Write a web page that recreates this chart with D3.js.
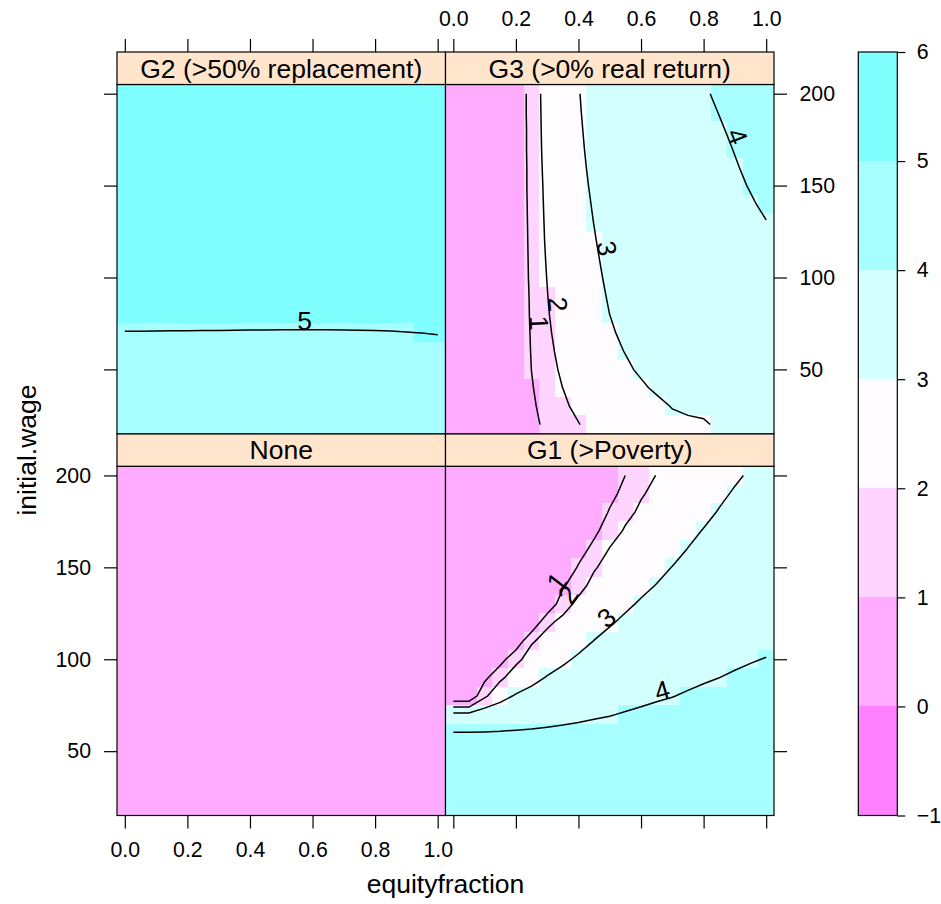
<!DOCTYPE html>
<html>
<head>
<meta charset="utf-8">
<script src="https://cdn.jsdelivr.net/npm/d3@7/dist/d3.min.js"></script>
<style>
  body { margin: 0; background: #fff; }
  svg { display: block; font-family: "Liberation Sans", Arial, Helvetica, sans-serif; }
</style>
</head>
<body>
<div id="chart"></div>
<script>
// grid coordinates, rows listed from the top of a panel (200) down to 20
var equityfraction = [0, 0.05, 0.1, 0.15, 0.2, 0.25, 0.3, 0.35, 0.4, 0.45, 0.5, 0.55, 0.6, 0.65, 0.7, 0.75, 0.8, 0.85, 0.9, 0.95, 1];
var initialWage = [200, 190, 180, 170, 160, 150, 140, 130, 120, 110, 100, 90, 80, 70, 60, 50, 40, 30, 20];

var panelNames = ["None", "G1 (>Poverty)", "G2 (>50% replacement)", "G3 (>0% real return)"];
var contourLevels = [1, 2, 3, 4, 5];
var keyBreaks = [-1, 0, 1, 2, 3, 4, 5, 6];
var xTicks = [0, 0.2, 0.4, 0.6, 0.8, 1];
var yTicks = [50, 100, 150, 200];

var gridNone = [
  [0,0,0,0,0,0,0,0,0,0,0,0,0,0,0,0,0,0,0,0,0],
  [0,0,0,0,0,0,0,0,0,0,0,0,0,0,0,0,0,0,0,0,0],
  [0,0,0,0,0,0,0,0,0,0,0,0,0,0,0,0,0,0,0,0,0],
  [0,0,0,0,0,0,0,0,0,0,0,0,0,0,0,0,0,0,0,0,0],
  [0,0,0,0,0,0,0,0,0,0,0,0,0,0,0,0,0,0,0,0,0],
  [0,0,0,0,0,0,0,0,0,0,0,0,0,0,0,0,0,0,0,0,0],
  [0,0,0,0,0,0,0,0,0,0,0,0,0,0,0,0,0,0,0,0,0],
  [0,0,0,0,0,0,0,0,0,0,0,0,0,0,0,0,0,0,0,0,0],
  [0,0,0,0,0,0,0,0,0,0,0,0,0,0,0,0,0,0,0,0,0],
  [0,0,0,0,0,0,0,0,0,0,0,0,0,0,0,0,0,0,0,0,0],
  [0,0,0,0,0,0,0,0,0,0,0,0,0,0,0,0,0,0,0,0,0],
  [0,0,0,0,0,0,0,0,0,0,0,0,0,0,0,0,0,0,0,0,0],
  [0,0,0,0,0,0,0,0,0,0,0,0,0,0,0,0,0,0,0,0,0],
  [0,0,0,0,0,0,0,0,0,0,0,0,0,0,0,0,0,0,0,0,0],
  [0,0,0,0,0,0,0,0,0,0,0,0,0,0,0,0,0,0,0,0,0],
  [0,0,0,0,0,0,0,0,0,0,0,0,0,0,0,0,0,0,0,0,0],
  [0,0,0,0,0,0,0,0,0,0,0,0,0,0,0,0,0,0,0,0,0],
  [0,0,0,0,0,0,0,0,0,0,0,0,0,0,0,0,0,0,0,0,0],
  [0,0,0,0,0,0,0,0,0,0,0,0,0,0,0,0,0,0,0,0,0]
];

var gridG1 = [
  [.05,.05,.05,.05,.05,.05,.05,.05,.05,.05,.15,1.01,1.6,2.03,2.24,2.43,2.61,2.78,2.93,3.06,3.15],
  [.05,.05,.05,.05,.05,.05,.05,.05,.05,.05,.63,1.39,1.93,2.2,2.4,2.58,2.75,2.91,3.05,3.15,3.24],
  [.05,.05,.05,.05,.05,.05,.05,.05,.05,.12,1.12,1.78,2.14,2.36,2.55,2.72,2.88,3.03,3.15,3.24,3.32],
  [.05,.05,.05,.05,.05,.05,.05,.05,.05,.72,1.6,2.09,2.33,2.53,2.7,2.87,3.02,3.14,3.25,3.34,3.41],
  [.05,.05,.05,.05,.05,.05,.05,.05,.48,1.33,2.04,2.29,2.51,2.69,2.85,3.01,3.14,3.25,3.35,3.43,3.5],
  [.05,.05,.05,.05,.05,.05,.05,.05,1.11,1.93,2.26,2.5,2.69,2.86,3.01,3.14,3.26,3.35,3.45,3.52,3.58],
  [.05,.05,.05,.05,.05,.05,.05,.85,1.75,2.23,2.49,2.7,2.88,3.02,3.14,3.27,3.37,3.46,3.55,3.61,3.67],
  [.05,.05,.05,.05,.05,.05,.05,1.68,2.19,2.49,2.72,2.91,3.06,3.18,3.29,3.4,3.49,3.57,3.65,3.7,3.75],
  [.05,.05,.05,.05,.05,.05,1.85,2.21,2.49,2.75,2.95,3.1,3.23,3.33,3.43,3.53,3.61,3.68,3.75,3.8,3.84],
  [.05,.05,.05,.05,.23,1.9,2.29,2.55,2.79,3.01,3.16,3.29,3.39,3.49,3.57,3.66,3.73,3.78,3.85,3.89,3.92],
  [.05,.05,.05,.58,1.77,2.37,2.66,2.89,3.09,3.24,3.37,3.47,3.56,3.64,3.71,3.79,3.85,3.89,3.94,3.98,4.01],
  [.05,.05,.76,1.81,2.49,2.8,3.04,3.21,3.35,3.47,3.57,3.66,3.73,3.8,3.85,3.91,3.96,3.999,4.04,4.07,4.09],
  [.14,.14,1.82,2.76,3.07,3.23,3.39,3.51,3.62,3.7,3.78,3.84,3.9,3.95,3.99,4.04,4.08,4.11,4.15,4.17,4.18],
  [3.22,3.22,3.61,3.45,3.57,3.66,3.75,3.82,3.88,3.94,3.98,4.03,4.07,4.11,4.14,4.17,4.2,4.21,4.25,4.26,4.26],
  [4.02,4.02,4.02,4.05,4.07,4.09,4.11,4.13,4.15,4.17,4.19,4.21,4.24,4.26,4.28,4.3,4.32,4.32,4.35,4.35,4.35],
  [4.95,4.95,4.81,4.66,4.57,4.51,4.46,4.44,4.41,4.4,4.39,4.4,4.4,4.42,4.42,4.43,4.44,4.43,4.45,4.44,4.44],
  [4.95,4.95,4.95,4.95,4.95,4.94,4.82,4.75,4.68,4.63,4.6,4.58,4.57,4.57,4.56,4.56,4.56,4.53,4.55,4.54,4.52],
  [4.95,4.95,4.95,4.95,4.95,4.95,4.95,4.95,4.95,4.86,4.8,4.77,4.74,4.73,4.7,4.69,4.68,4.64,4.65,4.63,4.61],
  [4.95,4.95,4.95,4.95,4.95,4.95,4.95,4.95,4.95,4.95,4.95,4.95,4.91,4.88,4.84,4.82,4.8,4.75,4.75,4.72,4.69]
];

var gridG2 = [
  [5.7,5.7,5.7,5.7,5.7,5.7,5.7,5.7,5.7,5.7,5.7,5.7,5.7,5.7,5.7,5.7,5.7,5.7,5.7,5.7,5.7],
  [5.65,5.65,5.65,5.65,5.65,5.65,5.65,5.65,5.65,5.65,5.65,5.65,5.65,5.65,5.65,5.65,5.65,5.65,5.65,5.65,5.65],
  [5.6,5.6,5.6,5.6,5.6,5.6,5.6,5.6,5.6,5.6,5.6,5.6,5.6,5.6,5.6,5.6,5.6,5.6,5.6,5.6,5.6],
  [5.55,5.55,5.55,5.55,5.55,5.55,5.55,5.55,5.55,5.55,5.55,5.55,5.55,5.55,5.55,5.55,5.55,5.55,5.55,5.55,5.55],
  [5.5,5.5,5.5,5.5,5.5,5.5,5.5,5.5,5.5,5.5,5.5,5.5,5.5,5.5,5.5,5.5,5.5,5.5,5.5,5.5,5.5],
  [5.45,5.45,5.45,5.45,5.45,5.45,5.45,5.45,5.45,5.45,5.45,5.45,5.45,5.45,5.45,5.45,5.45,5.45,5.45,5.45,5.45],
  [5.4,5.4,5.4,5.4,5.4,5.4,5.4,5.4,5.4,5.4,5.4,5.4,5.4,5.4,5.4,5.4,5.4,5.4,5.4,5.4,5.4],
  [5.35,5.35,5.35,5.35,5.35,5.35,5.35,5.35,5.35,5.35,5.35,5.35,5.35,5.35,5.35,5.35,5.35,5.35,5.35,5.35,5.35],
  [5.3,5.3,5.3,5.3,5.3,5.3,5.3,5.3,5.3,5.3,5.3,5.3,5.3,5.3,5.3,5.3,5.3,5.3,5.3,5.3,5.3],
  [5.25,5.25,5.25,5.25,5.25,5.25,5.25,5.25,5.25,5.25,5.25,5.25,5.25,5.25,5.25,5.25,5.25,5.25,5.25,5.25,5.25],
  [5.2,5.2,5.2,5.2,5.2,5.2,5.2,5.2,5.2,5.2,5.2,5.2,5.2,5.2,5.2,5.2,5.2,5.2,5.2,5.2,5.2],
  [5.15,5.15,5.15,5.15,5.15,5.15,5.15,5.15,5.15,5.15,5.15,5.15,5.15,5.15,5.15,5.15,5.15,5.15,5.15,5.15,5.15],
  [5.1,5.1,5.1,5.1,5.1,5.1,5.1,5.1,5.1,5.1,5.1,5.1,5.1,5.1,5.1,5.1,5.1,5.1,5.1,5.1,5.1],
  [4.992,4.991,4.99,4.989,4.988,4.987,4.986,4.985,4.984,4.983,4.982,4.981,4.981,4.982,4.983,4.985,4.987,4.99,4.996,5.002,5.015],
  [4.88,4.88,4.88,4.88,4.88,4.88,4.88,4.88,4.88,4.88,4.88,4.88,4.88,4.88,4.88,4.88,4.88,4.88,4.88,4.88,4.88],
  [4.76,4.76,4.76,4.76,4.76,4.76,4.76,4.76,4.76,4.76,4.76,4.76,4.76,4.76,4.76,4.76,4.76,4.76,4.76,4.76,4.76],
  [4.64,4.64,4.64,4.64,4.64,4.64,4.64,4.64,4.64,4.64,4.64,4.64,4.64,4.64,4.64,4.64,4.64,4.64,4.64,4.64,4.64],
  [4.52,4.52,4.52,4.52,4.52,4.52,4.52,4.52,4.52,4.52,4.52,4.52,4.52,4.52,4.52,4.52,4.52,4.52,4.52,4.52,4.52],
  [4.4,4.4,4.4,4.4,4.4,4.4,4.4,4.4,4.4,4.4,4.4,4.4,4.4,4.4,4.4,4.4,4.4,4.4,4.4,4.4,4.4]
];

var gridG3 = [
  [.1,.1,.1,.1,.34,1.34,2.48,2.1,2.9,3.9,3.9,3.9,3.9,3.1,3.1,3.1,3.58,4.58,4.9,4.9,4.9],
  [.1,.1,.1,.1,.34,1.34,2.44,2.1,2.82,3.82,3.9,3.9,3.9,3.1,3.1,3.1,3.1,4.1,4.9,4.9,4.9],
  [.1,.1,.1,.1,.32,1.32,2.42,2.1,2.72,3.72,3.9,3.9,3.9,3.1,3.1,3.1,3.1,3.62,4.62,4.9,4.9],
  [.1,.1,.1,.1,.32,1.32,2.38,2.9,2.62,3.62,3.9,3.9,3.9,3.9,3.1,3.1,3.1,3.16,4.16,4.9,4.9],
  [.1,.1,.1,.1,.3,1.3,2.33,2.9,2.5,3.5,3.9,3.9,3.9,3.9,3.1,3.1,3.1,3.1,3.72,4.72,4.9],
  [.1,.1,.1,.1,.3,1.3,2.27,2.9,2.36,3.36,3.9,3.9,3.9,3.9,3.1,3.1,3.1,3.1,3.24,4.24,4.9],
  [.1,.1,.1,.1,.28,1.28,2.23,2.9,2.2,3.2,3.9,3.9,3.9,3.9,3.9,3.1,3.1,3.1,3.1,3.64,4.64],
  [.1,.1,.1,.1,.26,1.26,2.19,2.9,2.1,3.04,3.9,3.9,3.9,3.9,3.9,3.1,3.1,3.1,3.1,3.1,3.9],
  [.1,.1,.1,.1,.24,1.24,2.15,2.9,2.1,2.86,3.86,3.9,3.9,3.9,3.9,3.9,3.1,3.1,3.1,3.1,3.1],
  [.1,.1,.1,.1,.22,1.22,2.09,2.9,2.1,2.66,3.66,3.9,3.9,3.9,3.9,3.9,3.9,3.9,3.9,3.9,3.9],
  [.1,.1,.1,.1,.2,1.2,2.03,2.9,2.1,2.46,3.46,3.9,3.9,3.9,3.9,3.9,3.9,3.9,3.9,3.9,3.9],
  [.1,.1,.1,.1,.16,1.16,1.96,2.9,2.1,2.24,3.24,3.9,3.9,3.9,3.9,3.9,3.9,3.9,3.9,3.9,3.9],
  [.1,.1,.1,.1,.14,1.14,1.86,2.86,2.9,2.1,3.01,3.9,3.9,3.9,3.9,3.9,3.9,3.9,3.9,3.9,3.9],
  [.1,.1,.1,.1,.1,1.1,1.72,2.72,2.9,2.1,2.62,3.62,3.9,3.9,3.9,3.9,3.9,3.9,3.9,3.9,3.9],
  [.1,.1,.1,.1,.1,1.06,1.54,2.54,2.9,2.1,2.12,3.12,3.9,3.9,3.9,3.9,3.9,3.9,3.9,3.9,3.9],
  [.1,.1,.1,.1,.1,1.01,1.32,2.32,2.9,2.9,2.1,2.48,3.48,3.9,3.9,3.9,3.9,3.9,3.9,3.9,3.9],
  [.1,.1,.1,.1,.1,.93,1.5,2.01,2.9,2.9,2.1,2.1,2.52,3.52,3.9,3.9,3.9,3.9,3.9,3.9,3.9],
  [.1,.1,.1,.1,.1,.7,1.7,1.58,2.58,2.9,2.9,2.1,2.1,2.16,3.16,3.9,3.9,3.9,3.9,3.9,3.9],
  [.1,.1,.1,.1,.1,.46,1.46,1.1,1.9,2.9,2.9,2.9,2.9,2.1,2.1,2.1,2.58,3.58,3.9,3.9,3.9]
];

// lattice regions palette, one colour per interval of keyBreaks
var regionColors = ["#FF80FF", "#FFABFF", "#FFD4FF", "#FFFCFF", "#D4FFFF", "#A8FFFF", "#80FFFF"];

var width = 941, height = 904;
var colLeft = [117, 445.5], panelW = 328.5;
var stripTop = [52, 433.75], stripH = 32.5, panelH = 349.25;
var bottomY = stripTop[1] + stripH + panelH;
var axisFont = 21.3, mainFont = 26.5;

var svg = d3.select("#chart").append("svg")
  .attr("width", width)
  .attr("height", height);

var nx = equityfraction.length, ny = initialWage.length;
var halfX = (equityfraction[1] - equityfraction[0]) / 2;
var halfY = (initialWage[0] - initialWage[1]) / 2;
var xr = d3.extent(equityfraction), yr = d3.extent(initialWage);

var x = d3.scaleLinear().domain([xr[0] - halfX, xr[1] + halfX]).range([0, panelW]);
var y = d3.scaleLinear().domain([yr[0] - halfY, yr[1] + halfY]).range([panelH, 0]);
var fill = d3.scaleThreshold().domain(keyBreaks.slice(1, -1)).range(regionColors);

// contour coordinates (cell centres at i + 0.5) back to data units
var ix = d3.scaleLinear().domain([0.5, nx - 0.5]).range([equityfraction[0], equityfraction[nx - 1]]);
var iy = d3.scaleLinear().domain([0.5, ny - 0.5]).range([initialWage[0], initialWage[ny - 1]]);

var panels = [
  {name: panelNames[0], grid: gridNone, col: 0, row: 1},
  {name: panelNames[1], grid: gridG1, col: 1, row: 1},
  {name: panelNames[2], grid: gridG2, col: 0, row: 0},
  {name: panelNames[3], grid: gridG3, col: 1, row: 0}
];

// d3.contours gives closed rings that run round the grid border; cut those bits off
function openLines(rings) {
  var out = [];
  var onEdge = function(p) { return p[0] <= 0 || p[0] >= nx || p[1] <= 0 || p[1] >= ny; };
  rings.forEach(function(ring) {
    var pts = ring.slice(0, -1);
    var s = pts.findIndex(onEdge);
    if (s < 0) { out.push(ring); return; }
    var cur = [];
    for (var k = 1; k <= pts.length; k++) {
      var p = pts[(s + k) % pts.length];
      if (onEdge(p)) {
        if (cur.length > 1) out.push(cur);
        cur = [];
      } else cur.push(p);
    }
  });
  return out;
}

// which side of the data a line end sits on: bottom, left, top, right, inside
function edgeRank(p) {
  var e = 1e-6;
  if (Math.abs(p[1] - yr[0]) < e) return 0;
  if (Math.abs(p[0] - xr[0]) < e) return 1;
  if (Math.abs(p[1] - yr[1]) < e) return 2;
  if (Math.abs(p[0] - xr[1]) < e) return 3;
  return 4;
}

// label placed where the line is deepest inside the panel, turned along the line
function addLabel(g, pts, level) {
  var depth = pts.map(function(p) {
    return Math.min(Math.min(p[0] - xr[0], xr[1] - p[0]) / (xr[1] - xr[0]),
                    Math.min(p[1] - yr[0], yr[1] - p[1]) / (yr[1] - yr[0]));
  });
  var k = Math.min(d3.maxIndex(depth), pts.length - 2);
  var a = pts[k], b = pts[k + 1];
  var ax = x(a[0]), ay = y(a[1]), bx = x(b[0]), by = y(b[1]);
  var rot = Math.atan((by - ay) / (bx - ax)) * 180 / Math.PI;
  if (isNaN(rot)) rot = 0;
  g.append("text")
    .attr("transform", "translate(" + ((ax + bx) / 2) + "," + ((ay + by) / 2) + ") rotate(" + rot + ")")
    .attr("text-anchor", "middle")
    .style("font-size", mainFont + "px")
    .attr("fill", "#000")
    .text(level);
}

var line = d3.line().x(function(d) { return x(d[0]); }).y(function(d) { return y(d[1]); });
var contours = d3.contours().size([nx, ny]).thresholds(contourLevels);

panels.forEach(function(p) {
  var left = colLeft[p.col];
  var top = stripTop[p.row] + stripH;
  var g = svg.append("g").attr("transform", "translate(" + left + "," + top + ")");

  var cells = [];
  p.grid.forEach(function(row, j) {
    row.forEach(function(v, i) {
      cells.push({x: equityfraction[i], y: initialWage[j], v: v});
    });
  });

  g.selectAll("rect.cell")
    .data(cells)
    .enter().append("rect")
    .attr("class", "cell")
    .attr("x", function(d) { return x(d.x - halfX); })
    .attr("y", function(d) { return y(d.y + halfY); })
    .attr("width", function(d) { return x(d.x + halfX) - x(d.x - halfX); })
    .attr("height", function(d) { return y(d.y - halfY) - y(d.y + halfY); })
    .attr("fill", function(d) { return fill(d.v); })
    .attr("shape-rendering", "crispEdges");

  var flat = [].concat.apply([], p.grid);
  contours(flat).forEach(function(mp) {
    var rings = [];
    mp.coordinates.forEach(function(poly) { poly.forEach(function(r) { rings.push(r); }); });
    openLines(rings).forEach(function(pts) {
      var dpts = pts.map(function(q) { return [ix(q[0]), iy(q[1])]; });
      if (edgeRank(dpts[dpts.length - 1]) < edgeRank(dpts[0])) dpts.reverse();
      g.append("path")
        .attr("d", line(dpts))
        .attr("fill", "none")
        .attr("stroke", "#000")
        .attr("stroke-width", 1.5);
      addLabel(g, dpts, mp.value);
    });
  });

  g.append("rect")
    .attr("width", panelW)
    .attr("height", panelH)
    .attr("fill", "none")
    .attr("stroke", "#000")
    .attr("stroke-width", 1.2);

  // strip
  var s = svg.append("g").attr("transform", "translate(" + left + "," + stripTop[p.row] + ")");
  s.append("rect")
    .attr("width", panelW)
    .attr("height", stripH)
    .attr("fill", "#FFE5CC")
    .attr("stroke", "#000")
    .attr("stroke-width", 1.2);
  s.append("text")
    .attr("x", panelW / 2)
    .attr("y", 25.5)
    .attr("text-anchor", "middle")
    .style("font-size", mainFont + "px")
    .text(p.name);
});

function styleAxis(sel) {
  sel.attr("font-family", null).attr("font-size", null);
  sel.select(".domain").remove();
  sel.selectAll(".tick line").attr("stroke", "#000").attr("stroke-width", 1.2);
  sel.selectAll(".tick text").attr("fill", "#000").style("font-size", axisFont + "px");
}

var blank = function() { return ""; };
var fmtX = d3.format(".1f"), fmtY = d3.format("d");

[0, 1].forEach(function(c) {
  svg.append("g")
    .attr("transform", "translate(" + colLeft[c] + "," + bottomY + ")")
    .call(d3.axisBottom(x).tickValues(xTicks).tickSize(13).tickSizeOuter(0).tickPadding(13.5)
      .tickFormat(c === 0 ? fmtX : blank))
    .call(styleAxis);
  svg.append("g")
    .attr("transform", "translate(" + colLeft[c] + "," + stripTop[0] + ")")
    .call(d3.axisTop(x).tickValues(xTicks).tickSize(13).tickSizeOuter(0).tickPadding(13.5)
      .tickFormat(c === 1 ? fmtX : blank))
    .call(styleAxis);
});

[0, 1].forEach(function(r) {
  var top = stripTop[r] + stripH;
  svg.append("g")
    .attr("transform", "translate(" + colLeft[0] + "," + top + ")")
    .call(d3.axisLeft(y).tickValues(yTicks).tickSize(13).tickSizeOuter(0).tickPadding(13)
      .tickFormat(r === 1 ? fmtY : blank))
    .call(styleAxis);
  svg.append("g")
    .attr("transform", "translate(" + (colLeft[1] + panelW) + "," + top + ")")
    .call(d3.axisRight(y).tickValues(yTicks).tickSize(13).tickSizeOuter(0).tickPadding(12.5)
      .tickFormat(r === 0 ? fmtY : blank))
    .call(styleAxis);
});

// colour key
var keyX = 858.3, keyW = 39;
var keyY = d3.scaleLinear()
  .domain([keyBreaks[0], keyBreaks[keyBreaks.length - 1]])
  .range([bottomY, stripTop[0]]);

svg.append("g").selectAll("rect")
  .data(d3.pairs(keyBreaks))
  .enter().append("rect")
  .attr("x", keyX)
  .attr("width", keyW)
  .attr("y", function(d) { return keyY(d[1]); })
  .attr("height", function(d) { return keyY(d[0]) - keyY(d[1]); })
  .attr("fill", function(d, i) { return regionColors[i]; })
  .attr("shape-rendering", "crispEdges");

svg.append("rect")
  .attr("x", keyX)
  .attr("y", keyY.range()[1])
  .attr("width", keyW)
  .attr("height", keyY.range()[0] - keyY.range()[1])
  .attr("fill", "none")
  .attr("stroke", "#000")
  .attr("stroke-width", 1.2);

svg.append("g")
  .attr("transform", "translate(" + (keyX + keyW) + ",0)")
  .call(d3.axisRight(keyY).tickValues(keyBreaks).tickSize(8).tickSizeOuter(0).tickPadding(11.5)
    .tickFormat(fmtY))
  .call(styleAxis);

// axis titles
svg.append("text")
  .attr("x", (colLeft[0] + colLeft[1] + panelW) / 2)
  .attr("y", 893)
  .attr("text-anchor", "middle")
  .style("font-size", mainFont + "px")
  .text("equityfraction");

svg.append("text")
  .attr("transform", "translate(36," + ((stripTop[0] + stripH + bottomY) / 2) + ") rotate(-90)")
  .attr("text-anchor", "middle")
  .style("font-size", mainFont + "px")
  .text("initial.wage");
</script>
</body>
</html>
